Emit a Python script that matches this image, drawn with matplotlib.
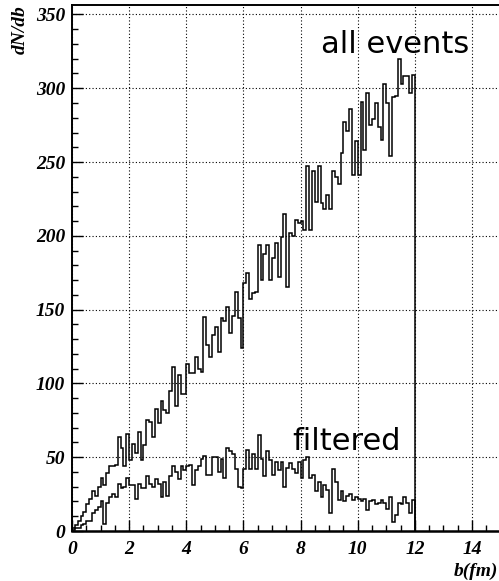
import numpy as np
import matplotlib
matplotlib.use("Agg")
import matplotlib.pyplot as plt
from matplotlib.ticker import MultipleLocator

# ---- data ----
b_min, b_max, n_bins = 0.0, 12.0, 120
all_events = [2, 4, 7, 10, 13, 18, 22, 27, 24, 30, 36, 31, 39, 44, 44, 45, 64, 56, 44, 66,
              48, 59, 53, 67, 48, 58, 75, 74, 64, 83, 73, 88, 82, 80, 95, 111, 85, 106, 93, 93,
              113, 107, 107, 118, 110, 108, 145, 126, 118, 133, 138, 121, 144, 142, 152, 134, 146, 162, 144, 124,
              168, 175, 157, 161, 162, 194, 170, 188, 194, 170, 185, 195, 172, 199, 215, 165, 202, 200, 211, 209,
              210, 204, 247, 204, 244, 223, 247, 222, 218, 228, 218, 244, 240, 235, 256, 277, 271, 286, 241, 264,
              241, 291, 258, 297, 275, 279, 290, 274, 265, 303, 290, 254, 294, 295, 320, 303, 308, 308, 297, 309]
filtered = [1, 2, 2, 4, 5, 7, 7, 12, 14, 16, 20, 5, 19, 23, 25, 23, 32, 29, 30, 36,
            31, 31, 22, 32, 29, 29, 37, 32, 30, 35, 32, 23, 33, 24, 37, 44, 40, 35, 44, 41,
            44, 45, 31, 41, 44, 49, 51, 38, 38, 50, 50, 40, 49, 36, 56, 54, 52, 42, 30, 29,
            42, 55, 42, 52, 42, 65, 49, 37, 54, 48, 38, 47, 41, 47, 30, 43, 46, 42, 39, 47,
            36, 48, 50, 36, 38, 27, 33, 23, 31, 28, 12, 42, 33, 21, 27, 20, 24, 25, 21, 23,
            22, 20, 22, 14, 20, 21, 18, 19, 21, 19, 15, 23, 6, 11, 19, 18, 23, 19, 12, 21]
x_ticks = [0, 2, 4, 6, 8, 10, 12, 14]
y_ticks = [0, 50, 100, 150, 200, 250, 300, 350]
x_label = "b(fm)"
y_label = "dN/db"
label_all = "all events"
label_filt = "filtered"

edges = np.linspace(b_min, b_max, n_bins + 1)

W, H = 499, 581
fig = plt.figure(figsize=(W / 100, H / 100), dpi=100)
ax = fig.add_axes([72 / W, 50 / H, 428.6 / W, 526 / H])

ax.stairs(all_events, edges, baseline=0, color="black", lw=1.1)
ax.stairs(filtered, edges, baseline=0, color="black", lw=1.1)

ax.set_xlim(0, 15)
ax.set_ylim(0, 356.4)

ax.set_xticks(x_ticks)
ax.set_yticks(y_ticks)
ax.xaxis.set_minor_locator(MultipleLocator(0.5))
ax.yaxis.set_minor_locator(MultipleLocator(10))
ax.tick_params(which="major", direction="in", length=8, width=1.0, pad=7)
ax.tick_params(which="minor", direction="in", length=4, width=1.0)
ax.tick_params(axis="y", which="major", pad=5)

tick_font = dict(family="Liberation Serif", weight="bold", style="italic", size=14)
ax.set_xticklabels([str(t) for t in x_ticks], fontdict=tick_font)
ax.set_yticklabels([str(t) for t in y_ticks], fontdict=tick_font)

ax.grid(True, which="major", linestyle=(0, (1, 2)), color="black", lw=0.8)
ax.set_axisbelow(True)

for s in ["left", "top"]:
    ax.spines[s].set_linewidth(1.4)
ax.spines["bottom"].set_linewidth(1.8)
ax.spines["right"].set_visible(False)

fig.text(20 / W, 1 - 5 / H, y_label, rotation=90, ha="center", va="top",
         family="Liberation Serif", weight="bold", style="italic", size=14)
fig.text(498 / W, 1 - 571 / H, x_label, ha="right", va="center",
         family="Liberation Serif", weight="bold", style="italic", size=14)

ax.text(11.3, 324, label_all, ha="center", va="baseline", family="DejaVu Sans", size=22)
ax.text(9.6, 55, label_filt, ha="center", va="baseline", family="DejaVu Sans", size=22)

fig.savefig("out.png", dpi=100)
